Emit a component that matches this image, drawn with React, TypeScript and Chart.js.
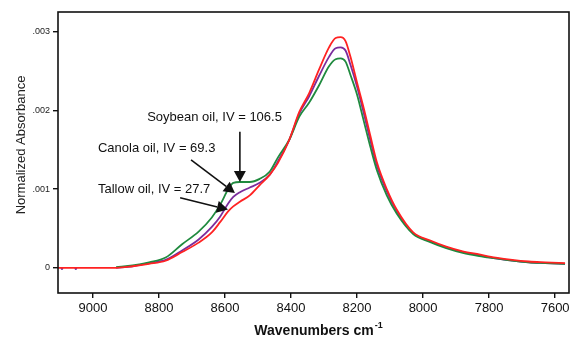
import React, { useEffect, useRef } from "react";
import { Chart, registerables } from "chart.js";

Chart.register(...registerables);

// Wavenumber grid (cm-1)
const wavenumbers = [
  9106, 8930, 8880, 8830, 8780, 8730, 8680, 8640, 8615, 8590, 8575, 8555, 8525, 8495, 8465, 8440,
  8405, 8375, 8345, 8315, 8285, 8265, 8250, 8235, 8220, 8200, 8180, 8160, 8140, 8110, 8080, 8030,
  7980, 7930, 7880, 7830, 7780, 7730, 7680, 7630, 7570,
];

// Tallow oil, IV = 27.7 (red)
const tallow = [
  0, 0, 0.00002, 0.00005, 0.00009, 0.0002, 0.00032, 0.00045, 0.00058, 0.00072, 0.00078, 0.00084,
  0.00092, 0.00105, 0.00118, 0.00133, 0.00163, 0.00198, 0.00222, 0.00252, 0.0028, 0.00292, 0.00293,
  0.00288, 0.00268, 0.00235, 0.00203, 0.00168, 0.00134, 0.001, 0.00074, 0.00045, 0.00035, 0.00027,
  0.00021, 0.00017, 0.00013, 0.0001, 0.00008, 0.00007, 0.00006,
];

// Canola oil, IV = 69.3 (purple)
const canola = [
  null, 0, 0.00002, 0.00006, 0.0001, 0.00022, 0.00036, 0.00052, 0.00065, 0.00082, 0.0009, 0.00096,
  0.00102, 0.00108, 0.00118, 0.00135, 0.00163, 0.00196, 0.00218, 0.00244, 0.00268, 0.00279, 0.0028,
  0.00276, 0.00258, 0.0023, 0.00197, 0.00162, 0.0013, 0.00097, 0.00072, 0.00044, 0.00034, 0.00026,
  0.0002, 0.00016, 0.00012, 0.00009, 0.00007, 0.00006, 0.00005,
];

// Soybean oil, IV = 106.5 (green)
const soybean = [
  null, 0.00001, 0.00003, 0.00007, 0.00013, 0.0003, 0.00046, 0.00064, 0.0008, 0.001, 0.00108,
  0.00109, 0.00109, 0.00113, 0.00122, 0.0014, 0.00163, 0.00192, 0.0021, 0.00232, 0.00256, 0.00265,
  0.00266, 0.00262, 0.00245, 0.0022, 0.00187, 0.00154, 0.00124, 0.00092, 0.00069, 0.00043, 0.00033,
  0.00025, 0.00019, 0.00015, 0.00012, 0.00009, 0.00007, 0.00006, 0.00005,
];

// stray canola points near the baseline on the left
const canolaDotsX = [9094, 9052];
const canolaDotsY = [-0.00001, -0.00001];

const xTicks = [9000, 8800, 8600, 8400, 8200, 8000, 7800, 7600];
const yTicks = [0, 0.001, 0.002, 0.003];
const yTickLabels = ["0", ".001", ".002", ".003"];

// annotations: label text, text anchor (left, middle) in data units, arrow from -> to
const annoLabels = ["Soybean oil, IV = 106.5", "Canola oil, IV = 69.3", "Tallow oil, IV = 27.7"];
const annoTextX = [8836, 8985, 8985];
const annoTextY = [0.00191, 0.00152, 0.00099];
const arrowFromX = [8555, 8703, 8736];
const arrowFromY = [0.00173, 0.00137, 0.00089];
const arrowToX = [8555, 8570, 8591];
const arrowToY = [0.00109, 0.00095, 0.00074];

const FONT = "'Liberation Sans', Arial, Helvetica, sans-serif";

const toPoints = (ys: (number | null)[], xs: number[]) =>
  xs.map((x, i) => ({ x, y: ys[i] })).filter((p) => p.y !== null) as { x: number; y: number }[];

const decorPlugin = {
  id: "decor",
  afterDatasetsDraw(chart: any) {
    const { ctx, chartArea, scales } = chart;
    const xs = scales.x;
    const ys = scales.y;
    ctx.save();
    // frame
    ctx.strokeStyle = "#111";
    ctx.lineWidth = 1.6;
    ctx.strokeRect(chartArea.left, chartArea.top, chartArea.right - chartArea.left, chartArea.bottom - chartArea.top);

    // annotations
    ctx.fillStyle = "#111";
    ctx.font = `13px ${FONT}`;
    ctx.textBaseline = "middle";
    ctx.textAlign = "left";
    for (let i = 0; i < annoLabels.length; i++) {
      ctx.fillText(annoLabels[i], xs.getPixelForValue(annoTextX[i]), ys.getPixelForValue(annoTextY[i]));
      const x1 = xs.getPixelForValue(arrowFromX[i]);
      const y1 = ys.getPixelForValue(arrowFromY[i]);
      const x2 = xs.getPixelForValue(arrowToX[i]);
      const y2 = ys.getPixelForValue(arrowToY[i]);
      const ang = Math.atan2(y2 - y1, x2 - x1);
      const headLen = 11;
      const headW = 6;
      const bx = x2 - headLen * Math.cos(ang);
      const by = y2 - headLen * Math.sin(ang);
      ctx.strokeStyle = "#111";
      ctx.lineWidth = 1.6;
      ctx.beginPath();
      ctx.moveTo(x1, y1);
      ctx.lineTo(bx, by);
      ctx.stroke();
      ctx.beginPath();
      ctx.moveTo(x2, y2);
      ctx.lineTo(bx + headW * Math.sin(ang), by - headW * Math.cos(ang));
      ctx.lineTo(bx - headW * Math.sin(ang), by + headW * Math.cos(ang));
      ctx.closePath();
      ctx.fill();
    }

    // x title with superscript
    const cx = (chartArea.left + chartArea.right) / 2 + 5;
    const ty = 331;
    ctx.font = `bold 14px ${FONT}`;
    const main = "Wavenumbers cm";
    const sup = "-1";
    const wMain = ctx.measureText(main).width;
    ctx.font = `bold 9px ${FONT}`;
    const wSup = ctx.measureText(sup).width;
    const start = cx - (wMain + wSup + 1) / 2;
    ctx.font = `bold 14px ${FONT}`;
    ctx.fillText(main, start, ty);
    ctx.font = `bold 9px ${FONT}`;
    ctx.fillText(sup, start + wMain + 1, ty - 5);

    // y title
    ctx.save();
    ctx.translate(21, 145);
    ctx.rotate(-Math.PI / 2);
    ctx.textAlign = "center";
    ctx.font = `13px ${FONT}`;
    ctx.fillStyle = "#222";
    ctx.fillText("Normalized Absorbance", 0, 0);
    ctx.restore();

    ctx.restore();
  },
};

export default function App() {
  const ref = useRef<HTMLCanvasElement | null>(null);

  useEffect(() => {
    document.body.style.margin = "0";
    const canvas = ref.current!;
    const lineBase = {
      showLine: true,
      pointRadius: 0,
      borderWidth: 1.8,
      cubicInterpolationMode: "monotone" as const,
      fill: false,
    };
    const chart = new Chart(canvas, {
      type: "scatter",
      data: {
        datasets: [
          { ...lineBase, label: "Tallow oil", data: toPoints(tallow, wavenumbers), borderColor: "#ff2222", backgroundColor: "#ff2222" },
          { ...lineBase, label: "Soybean oil", data: toPoints(soybean, wavenumbers), borderColor: "#1f8a3e", backgroundColor: "#1f8a3e" },
          { ...lineBase, label: "Canola oil", data: toPoints(canola, wavenumbers), borderColor: "#7b2c9c", backgroundColor: "#7b2c9c" },
          {
            label: "Canola dots",
            data: toPoints(canolaDotsY, canolaDotsX),
            showLine: false,
            pointRadius: 1.3,
            borderWidth: 0,
            backgroundColor: "#5a2ca0",
          },
        ],
      },
      options: {
        animation: false,
        responsive: false,
        maintainAspectRatio: false,
        layout: { padding: { left: 0, right: 7, top: 12, bottom: 0 } },
        plugins: { legend: { display: false }, tooltip: { enabled: false } },
        scales: {
          x: {
            type: "linear",
            reverse: true,
            min: 7558,
            max: 9106,
            afterBuildTicks: (s: any) => {
              s.ticks = xTicks.map((v) => ({ value: v }));
            },
            afterFit: (s: any) => {
              s.height = 50;
            },
            ticks: {
              font: { family: FONT, size: 13 },
              color: "#111",
              padding: 3,
              maxRotation: 0,
              autoSkip: false,
              callback: (v: any) => String(v),
            },
            grid: { drawOnChartArea: false, drawTicks: true, tickLength: 5, color: "#111", lineWidth: 1.4 },
            border: { display: false },
          },
          y: {
            type: "linear",
            min: -0.00032,
            max: 0.00325,
            afterBuildTicks: (s: any) => {
              s.ticks = yTicks.map((v) => ({ value: v }));
            },
            afterFit: (s: any) => {
              s.width = 58;
            },
            ticks: {
              font: { family: FONT, size: 9 },
              color: "#222",
              padding: 3,
              autoSkip: false,
              callback: (v: any) => {
                const i = yTicks.findIndex((t) => Math.abs(t - v) < 1e-9);
                return i >= 0 ? yTickLabels[i] : "";
              },
            },
            grid: { drawOnChartArea: false, drawTicks: true, tickLength: 5, color: "#111", lineWidth: 1.4 },
            border: { display: false },
          },
        },
      },
      plugins: [decorPlugin],
    });
    return () => chart.destroy();
  }, []);

  return (
    <div style={{ width: 576, height: 343, background: "#fff" }}>
      <canvas ref={ref} width={576} height={343} style={{ display: "block" }} />
    </div>
  );
}
